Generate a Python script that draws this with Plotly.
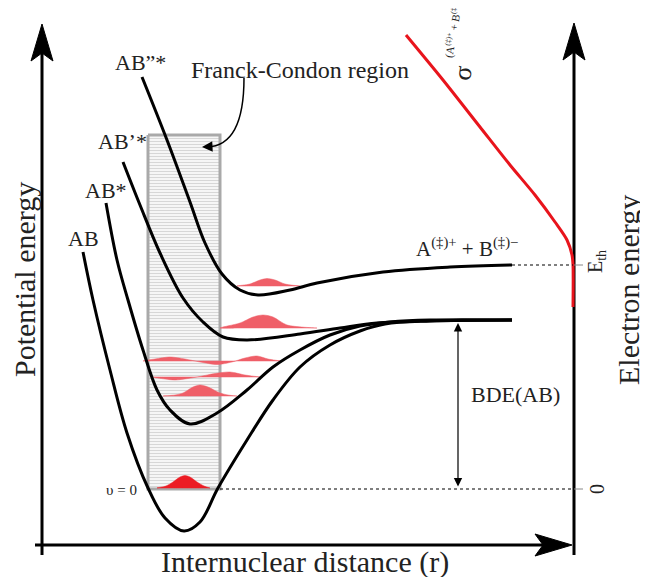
import plotly.graph_objects as go

# ---- potential energy curves (pixel-space units) ----
AB_x = [83, 93, 110, 127, 148, 165, 184, 200, 218, 247, 273, 300, 330, 360, 385, 430, 512]
AB_y = [252, 300, 370, 433, 488, 518, 531, 522, 488, 440, 400, 367, 345, 331, 324, 321, 320]

ABs_x = [106, 117, 128, 143, 157, 170, 190, 217, 247, 273, 300, 330, 360, 390, 430, 512]
ABs_y = [203, 260, 300, 350, 390, 410, 424, 413, 390, 367, 350, 335, 326, 322, 320, 320]

ABp_x = [123, 140, 160, 183, 203, 223, 247, 300, 340, 377, 420, 512]
ABp_y = [162, 205, 253, 298, 322, 337, 340, 334, 328, 323, 321, 320]

ABpp_x = [142, 167, 190, 205, 222, 240, 258, 290, 317, 383, 450, 512]
ABpp_y = [77, 140, 202, 243, 274, 290, 295, 290, 283, 272, 267, 265]

# cross-section curve
sig_x = [406, 443, 480, 510, 535, 555, 567, 572, 573, 573]
sig_y = [35, 80, 127, 165, 195, 222, 240, 255, 265, 307]

# wave packets: baseline, x samples, heights
packets = [
    dict(base=488, x=[157, 166, 173, 180, 185, 190, 197, 204, 210],
         h=[0, 2, 6, 11, 12.5, 11, 6, 2, 0], color="#ec1c24"),
    dict(base=396, x=[163, 175, 183, 193, 200, 208, 220, 228, 237],
         h=[0, 1, 3, 9, 11, 9, 3, 1, 0], color="#ef5f68"),
    dict(base=377, x=[152, 165, 175, 188, 200, 215, 230, 245, 260],
         h=[0, -2, -3, -1.5, 0.5, 3.5, 5, 2, 0], color="#ef5f68"),
    dict(base=361, x=[143, 155, 170, 185, 200, 217, 232, 245, 257, 268, 281],
         h=[0, 2, 4, 2, -1, -3.5, -1, 3, 5, 2, 0], color="#ef5f68"),
    dict(base=286, x=[237, 250, 260, 267, 275, 285, 300],
         h=[0, 2, 6, 7.5, 6, 2, 0], color="#ef5f68"),
    dict(base=328, x=[220, 240, 253, 263, 273, 287, 317],
         h=[0, 5, 11, 13, 11, 3, 0], color="#ef5f68"),
]

# Franck-Condon box
fc_x = [148, 220, 220, 148, 148]
fc_y = [135, 135, 489, 489, 135]

fig = go.Figure()

fig.add_trace(go.Scatter(
    x=fc_x, y=fc_y, mode="lines", fill="toself",
    fillcolor="#f2f2f2",
    fillpattern=dict(shape="-", fgcolor="#b8b8b8", bgcolor="#f6f6f6", size=3, solidity=0.35),
    line=dict(color="#a9a9a9", width=3), hoverinfo="skip"))

for p in packets:
    xs = p["x"] + p["x"][::-1]
    ys = [p["base"] - v for v in p["h"]] + [p["base"]] * len(p["x"])
    fig.add_trace(go.Scatter(
        x=xs, y=ys, mode="lines", fill="toself", fillcolor=p["color"],
        line=dict(color=p["color"], width=0.5, shape="spline", smoothing=0.8),
        hoverinfo="skip"))

for cx, cy in [(AB_x, AB_y), (ABs_x, ABs_y), (ABp_x, ABp_y), (ABpp_x, ABpp_y)]:
    fig.add_trace(go.Scatter(
        x=cx, y=cy, mode="lines",
        line=dict(color="black", width=3, shape="spline", smoothing=1.0),
        hoverinfo="skip"))

# dotted guide lines
fig.add_shape(type="line", x0=512, y0=265, x1=573, y1=265,
              line=dict(color="black", width=1.2, dash="dot"))
fig.add_shape(type="line", x0=220, y0=489, x1=573, y1=489,
              line=dict(color="black", width=1.2, dash="dot"))
fig.add_shape(type="line", x0=574, y0=265, x1=583, y1=265, line=dict(color="#888", width=1))
fig.add_shape(type="line", x0=574, y0=489, x1=583, y1=489, line=dict(color="#888", width=1))

# axes (below traces so the red curve sits on top of the right axis)
fig.add_shape(type="line", x0=42, y0=50, x1=42, y1=555, line=dict(color="black", width=3), layer="below")
fig.add_shape(type="line", x0=35, y0=545, x1=548, y1=545, line=dict(color="black", width=3), layer="below")
fig.add_shape(type="line", x0=574, y0=50, x1=574, y1=555, line=dict(color="black", width=3), layer="below")
fig.add_shape(type="path", path="M 42 24 L 53 61 L 42 53 L 31 61 Z",
              fillcolor="black", line=dict(color="black", width=1))
fig.add_shape(type="path", path="M 574 23 L 585 60 L 574 52 L 563 60 Z",
              fillcolor="black", line=dict(color="black", width=1))
fig.add_shape(type="path", path="M 572 545 L 535 534 L 543 545 L 535 556 Z",
              fillcolor="black", line=dict(color="black", width=1))

# sigma curve
fig.add_trace(go.Scatter(
    x=sig_x, y=sig_y, mode="lines",
    line=dict(color="#e8141c", width=3, shape="spline", smoothing=0.8),
    hoverinfo="skip"))

# Franck-Condon curved arrow
fig.add_shape(type="path", path="M 244 78 Q 244 146 207 147",
              line=dict(color="black", width=1.5))
fig.add_annotation(x=202, y=147, ax=212, ay=146.5, xref="x", yref="y", axref="x", ayref="y",
                   showarrow=True, arrowhead=2, arrowsize=1.4, arrowwidth=1.5, arrowcolor="black", text="")

# BDE double arrow
fig.add_annotation(x=458, y=323, ax=458, ay=488, xref="x", yref="y", axref="x", ayref="y",
                   showarrow=True, arrowhead=2, startarrowhead=2, arrowside="end+start",
                   arrowsize=1.4, startarrowsize=1.4, arrowwidth=1.2, arrowcolor="black", text="")

F = "Liberation Serif"
def label(x, y, text, size, angle=0, color="#222"):
    fig.add_annotation(x=x, y=y, xref="x", yref="y", text=text, showarrow=False,
                       textangle=angle, font=dict(family=F, size=size, color=color))

label(24, 280, "Potential energy", 30, -90)
label(628, 290, "Electron energy", 30, -90)
label(305, 562, "Internuclear distance (r)", 30)
label(300, 70, "Franck-Condon region", 24)
label(140, 62, "AB”*", 22)
label(122, 141, "AB’*", 22)
label(106, 190, "AB*", 22)
label(83, 238, "AB", 22)
label(467, 247, "A<sup>(‡)+</sup> + B<sup>(‡)−</sup>", 21)
label(596, 262, "E<sub>th</sub>", 20, -90)
label(597, 489, "0", 20, -90)
label(121, 490, "υ = 0", 15)
label(515, 394, "BDE(AB)", 22)
label(462, 73, "σ", 26, -80)
label(453, 28, "(A<sup>(‡)+</sup> + B<sup>(‡)−</sup>)", 11, -80)

# the page places the figure 8px from the window's top-left corner;
# axis ranges are chosen so that data units equal window pixels
fig.update_layout(
    width=640, height=569, margin=dict(l=0, r=0, t=0, b=0, pad=0),
    paper_bgcolor="white", plot_bgcolor="white", showlegend=False,
    xaxis=dict(range=[8, 648], visible=False, fixedrange=True),
    yaxis=dict(range=[577, 8], visible=False, fixedrange=True),
)

fig.write_html("out.html")
